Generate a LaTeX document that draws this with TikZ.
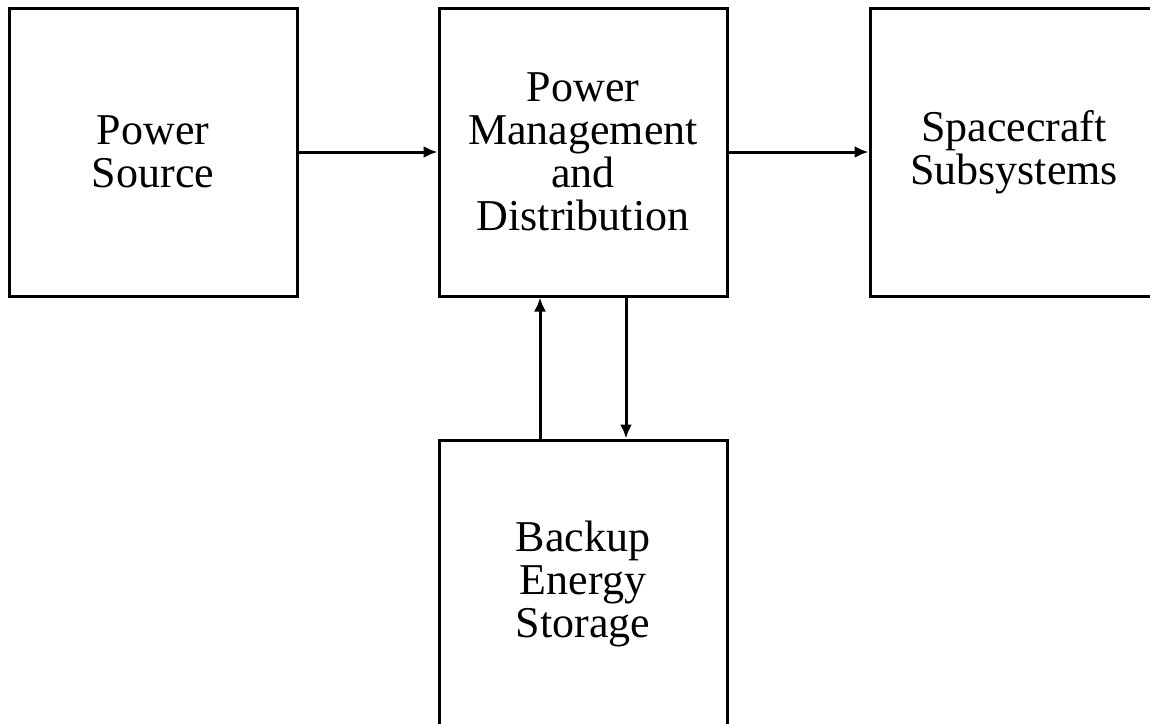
\documentclass[tikz,border=0pt]{standalone}
\usepackage{fontspec}
\setmainfont{Liberation Serif}
\usetikzlibrary{arrows.meta}

\tikzset{
  blk/.style={draw, line width=3pt, minimum width=288pt, minimum height=288pt, inner sep=0pt,
    align=center, font=\fontsize{44}{43}\selectfont},
  flow/.style={line width=3pt, -{Latex[length=14pt,width=12pt]}}
}

\begin{document}
\begin{tikzpicture}[x=1pt,y=1pt,yscale=-1,xscale=1]
\useasboundingbox (0,0) rectangle (1150,723);

% blocks
\node [blk] (src) at (153,152) {Power\\Source};
\node [blk] (pmd) at (583,152) {Power\\Management\\and\\Distribution};
\node [blk] (sub) at (1014,152) {Spacecraft\\Subsystems};
\node [blk] (sto) at (583,584) {Backup\\Energy\\Storage};

% connectors
\draw [flow] (src.east) -- (pmd.west);
\draw [flow] (pmd.east) -- (sub.west);
\draw [flow] ([xshift=-43pt]sto.north) -- ([xshift=-43pt]pmd.south);
\draw [flow] ([xshift=43pt]pmd.south) -- ([xshift=43pt]sto.north);
\end{tikzpicture}
\end{document}
